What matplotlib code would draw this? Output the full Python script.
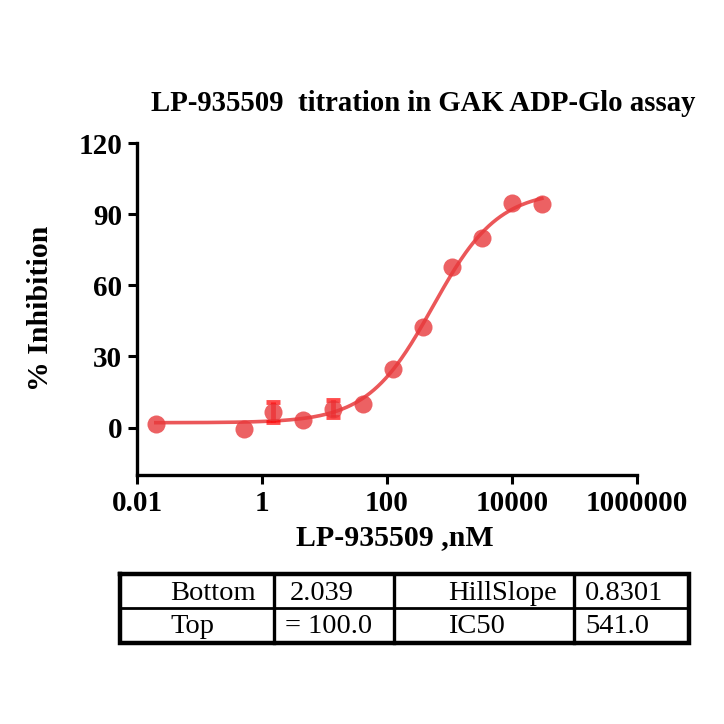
import numpy as np
import matplotlib
matplotlib.use("Agg")
import matplotlib.pyplot as plt

# concentrations (nM) and % inhibition
conc = [0.02, 0.508, 1.52, 4.57, 13.7, 41.2, 123, 370, 1111, 3333, 10000, 30000]
inhib = [1.7, -0.5, 6.5, 3.1, 8.0, 10.1, 24.9, 42.4, 67.6, 80.1, 94.5, 94.2]
err = [0, 0, 4.3, 0, 3.7, 0, 0, 0, 0, 0, 0, 0]

# fit parameters shown in the table
bottom = 2.039
top = 100.0
hill = 0.8301
ic50 = 541.0

table_rows = [["Bottom", "2.039", "HillSlope", "0.8301"],
              ["Top", "= 100.0", "IC50", "541.0"]]

xticks = [0.01, 1, 100, 10000, 1000000]
xticklabels = ["0.01", "1", "100", "10000", "1000000"]
yticks = [0, 30, 60, 90, 120]

plt.rcParams['font.family'] = ['Liberation Serif', 'DejaVu Serif']

red = "#e8393c"

fig = plt.figure(figsize=(7.24, 7.24), dpi=100)
ax = fig.add_axes([137 / 724, 1 - 475 / 724, 500 / 724, 332 / 724])

xs = np.logspace(np.log10(conc[0]), np.log10(conc[-1]), 300)
fit = bottom + (top - bottom) / (1 + (ic50 / xs) ** hill)
ax.plot(xs, fit, "-", color=red, lw=2.6, alpha=0.85, zorder=2)

ax.errorbar(conc, inhib, yerr=[e if e > 0 else np.nan for e in err], fmt="none",
            ecolor="red", elinewidth=3.5, capsize=4.8, capthick=3.5, alpha=0.7, zorder=3)
ax.plot(conc, inhib, "o", color=red, ms=13, alpha=0.8, mec="none", zorder=4)

ax.set_xscale("log")
ax.set_xlim(0.01, 1000000)
ax.set_ylim(-20, 120)
ax.set_xticks(xticks)
ax.set_xticklabels(xticklabels)
ax.minorticks_off()
ax.set_yticks(yticks)

for s in ["top", "right"]:
    ax.spines[s].set_visible(False)
for s in ["left", "bottom"]:
    ax.spines[s].set_linewidth(2.4)
ax.tick_params(width=2.2, length=6.5, labelsize=21, pad=4)
for lab in ax.get_xticklabels() + ax.get_yticklabels():
    lab.set_fontweight("bold")

fig.text(423 / 724, 1 - 111 / 724, "LP-935509  titration in GAK ADP-Glo assay",
         fontsize=20.7, fontweight="bold", ha="center", va="baseline")
ax.set_xlabel("LP-935509 ,nM", fontsize=21.5, fontweight="bold")
ax.xaxis.set_label_coords((395 - 137) / 500, (475 - 524) / 332)
ax.set_ylabel("% Inhibition", fontsize=21.5, fontweight="bold")
ax.yaxis.set_label_coords((54 - 137) / 500, (475 - 308) / 332)

# parameter table
tab = fig.add_axes([100 / 724, 1 - 660 / 724, 610 / 724, 110 / 724])
tab.set_xlim(100, 710)
tab.set_ylim(660, 550)
tab.axis("off")
tab.plot([120, 689, 689, 120, 120], [574, 574, 643, 643, 574], color="black", lw=3.2,
         solid_joinstyle="miter")
tab.plot([120, 689], [608, 608], color="black", lw=2.0)
for cx in [273.5, 394, 574]:
    tab.plot([cx, cx], [574, 643], color="black", lw=2.4)

col_x = [[170, 290, 448, 585], [170, 285, 448, 585]]
row_y = [600, 633]
for r, row in enumerate(table_rows):
    for c, txt in enumerate(row):
        tab.text(col_x[r][c], row_y[r], txt, fontsize=20.5, ha="left", va="baseline")

fig.savefig("out.png", dpi=100)
